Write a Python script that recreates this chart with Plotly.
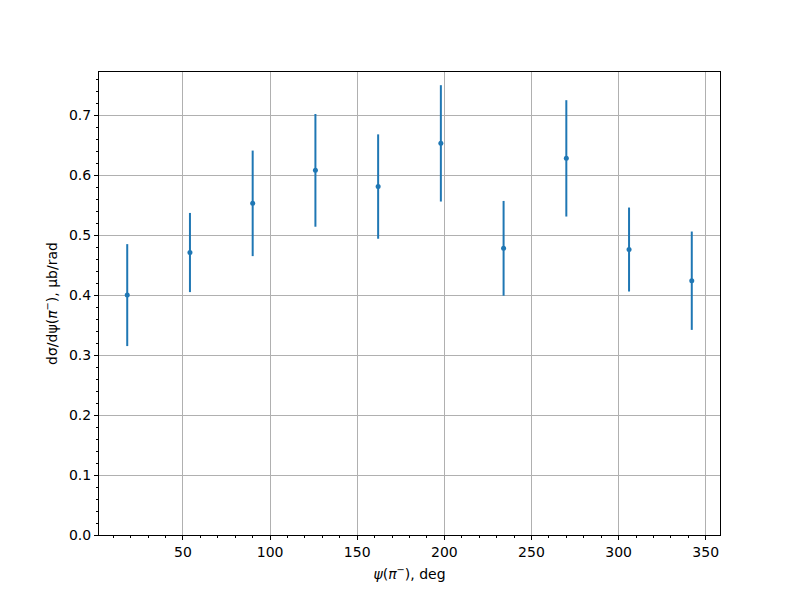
"""
dσ/dψ(π⁻) 误差棒图
"""
import plotly.graph_objects as go

# 数据
psi_deg = [18, 54, 90, 126, 162, 198, 234, 270, 306, 342]
dsigma = [0.400, 0.471, 0.553, 0.608, 0.581, 0.653, 0.478, 0.628, 0.476, 0.424]
dsigma_err = [0.085, 0.066, 0.088, 0.094, 0.087, 0.097, 0.079, 0.097, 0.070, 0.082]

x_ticks = [50, 100, 150, 200, 250, 300, 350]
y_ticks = [0.0, 0.1, 0.2, 0.3, 0.4, 0.5, 0.6, 0.7]

FONT = "DejaVu Sans"
BLUE = "#1f77b4"

fig = go.Figure()

fig.add_trace(go.Scatter(
    x=psi_deg,
    y=dsigma,
    mode='markers',
    marker=dict(color=BLUE, size=5),
    error_y=dict(type='data', array=dsigma_err, visible=True,
                 color=BLUE, thickness=2, width=0),
    showlegend=False,
))

axis_common = dict(
    showline=True, linecolor='black', linewidth=1, mirror=True,
    showgrid=True, gridcolor='#b0b0b0', gridwidth=0.8,
    zeroline=False,
    ticks='outside', ticklen=4, tickwidth=1, tickcolor='black',
    tickfont=dict(family=FONT, size=14, color='black'),
)

fig.update_xaxes(
    range=[1.8, 358.2],
    tickvals=x_ticks,
    minor=dict(dtick=10, tick0=0, ticks='outside', ticklen=2,
               tickcolor='black', showgrid=False),
    title=dict(text="<i>ψ</i>(<i>π</i><sup>−</sup>), deg",
               font=dict(family=FONT, size=14, color='black'), standoff=10),
    **axis_common
)

fig.update_yaxes(
    range=[0, 0.772],
    tickvals=y_ticks,
    ticktext=[f"{v:.1f}" for v in y_ticks],
    minor=dict(dtick=0.02, tick0=0, ticks='outside', ticklen=2,
               tickcolor='black', showgrid=False),
    title=dict(text="dσ/dψ(<i>π</i><sup>−</sup>), μb/rad",
               font=dict(family=FONT, size=14, color='black'), standoff=8),
    **axis_common
)

# 页面 body 有 8px 边距，边距相应调整
fig.update_layout(
    width=800, height=600,
    margin=dict(l=91, r=88, t=64, b=73),
    paper_bgcolor='white', plot_bgcolor='white',
    font=dict(family=FONT),
)

fig.write_html("out.html")
